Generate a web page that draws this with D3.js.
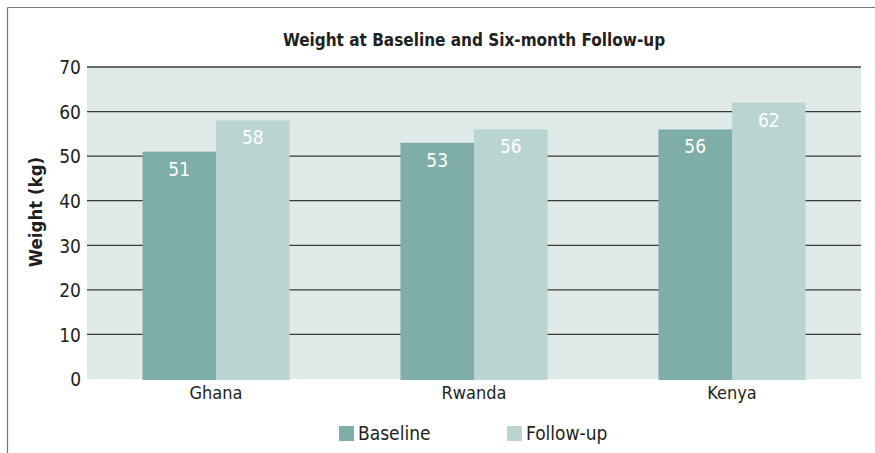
<!DOCTYPE html>
<html>
<head>
<meta charset="utf-8">
<script src="https://cdn.jsdelivr.net/npm/d3@7"></script>
<style>
  body { margin: 0; background: #fff; }
  svg text { font-family: "Liberation Sans Narrow", "DejaVu Sans Condensed", sans-serif; fill: #231f20; }
</style>
</head>
<body>
<svg id="chart" width="875" height="453"></svg>
<script>
const countries = ["Ghana", "Rwanda", "Kenya"]
const seriesNames = ["Baseline", "Follow-up"]
const baseline = [51, 53, 56]
const followUp = [58, 56, 62]
const yTicks = [0, 10, 20, 30, 40, 50, 60, 70]

const colors = {"Baseline": "#7fada7", "Follow-up": "#b9d4d1"}
const width = 875, height = 453
const plot = {left: 87, right: 861, top: 67, bottom: 379}

const svg = d3.select("#chart")

// frame lines
svg.append("line").attr("x1", 7.5).attr("x2", 875).attr("y1", 7.5).attr("y2", 7.5)
    .attr("stroke", "#777").attr("stroke-width", 1.2)
svg.append("line").attr("x1", 7.5).attr("x2", 7.5).attr("y1", 7.5).attr("y2", 453)
    .attr("stroke", "#777").attr("stroke-width", 1.2)

const x = d3.scaleBand(countries, [plot.left, plot.right]).paddingInner(0.43).paddingOuter(0.215)
const xInner = d3.scaleBand(seriesNames, [0, x.bandwidth()])
const y = d3.scaleLinear([0, 70], [plot.bottom, plot.top])

svg.append("rect")
    .attr("x", plot.left).attr("y", plot.top)
    .attr("width", plot.right - plot.left).attr("height", plot.bottom - plot.top)
    .attr("fill", "#e0eae9")

// gridlines
svg.append("g")
    .selectAll("line")
    .data(yTicks.filter(d => d > 0))
    .join("line")
    .attr("x1", plot.left).attr("x2", plot.right)
    .attr("y1", d => y(d)).attr("y2", d => y(d))
    .attr("stroke", "#3a3a3a").attr("stroke-width", 1.3)

const yAxis = svg.append("g")
    .attr("transform", `translate(${plot.left}, 0)`)
    .call(d3.axisLeft(y).tickValues(yTicks).tickSize(0).tickPadding(6))
yAxis.select(".domain").remove()
yAxis.selectAll("text").attr("font-size", 19).attr("font-family", null).attr("dy", "0.36em")

const data = countries.map((c, i) => ({c, values: [
    {s: "Baseline", v: baseline[i]},
    {s: "Follow-up", v: followUp[i]},
]}))

const groups = svg.append("g")
    .selectAll("g")
    .data(data)
    .join("g")
    .attr("transform", d => `translate(${x(d.c)}, 0)`)

groups.selectAll("rect")
    .data(d => d.values)
    .join("rect")
    .attr("x", d => xInner(d.s))
    .attr("y", d => y(d.v))
    .attr("width", xInner.bandwidth())
    .attr("height", d => y(0) - y(d.v) + 1)
    .attr("fill", d => colors[d.s])

groups.selectAll("text")
    .data(d => d.values)
    .join("text")
    .attr("x", d => xInner(d.s) + xInner.bandwidth() / 2)
    .attr("y", d => y(d.v) + 24)
    .attr("text-anchor", "middle")
    .attr("font-size", 19)
    .style("fill", "#fff")
    .text(d => d.v)

const xAxis = svg.append("g")
    .attr("transform", `translate(0, ${plot.bottom})`)
    .call(d3.axisBottom(x).tickSize(0).tickPadding(7))
xAxis.select(".domain").remove()
xAxis.selectAll("text").attr("font-size", 18).attr("font-family", null).attr("dy", "0.71em")

svg.append("text")
    .attr("x", 474).attr("y", 46)
    .attr("text-anchor", "middle")
    .attr("font-size", 17).attr("font-weight", "bold")
    .text("Weight at Baseline and Six-month Follow-up")

svg.append("text")
    .attr("transform", "translate(42, 212) rotate(-90)")
    .attr("text-anchor", "middle")
    .attr("font-size", 18.5).attr("font-weight", "bold")
    .text("Weight (kg)")

// legend
const legendX = {"Baseline": 339, "Follow-up": 507}
const legend = svg.append("g")
    .selectAll("g")
    .data(seriesNames)
    .join("g")
    .attr("transform", d => `translate(${legendX[d]}, 426)`)
legend.append("rect").attr("width", 15).attr("height", 15).attr("fill", d => colors[d])
legend.append("text").attr("x", 19).attr("y", 14).attr("font-size", 19).text(d => d)
</script>
</body>
</html>
